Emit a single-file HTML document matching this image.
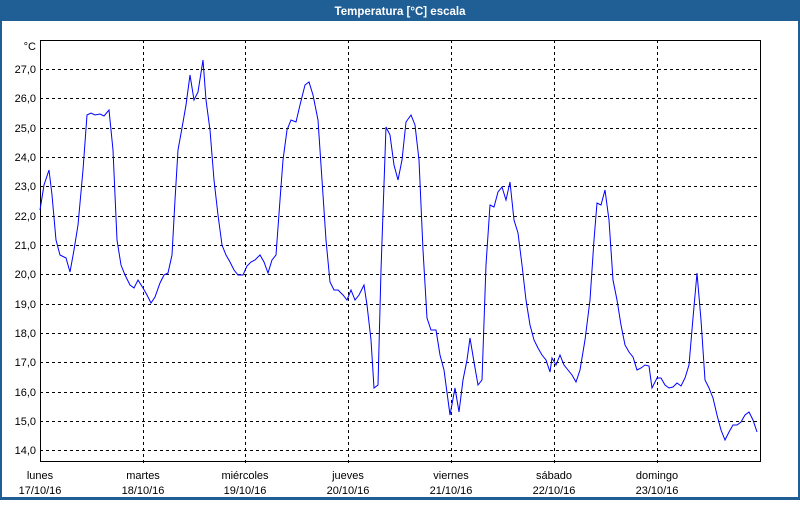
<!DOCTYPE html>
<html><head><meta charset="utf-8"><style>
body{margin:0;width:800px;height:500px;overflow:hidden;background:#fff;font-family:"Liberation Sans",sans-serif}
</style></head><body>
<svg width="800" height="500" xmlns="http://www.w3.org/2000/svg" font-family="Liberation Sans, sans-serif" font-size="11">
<rect x="0" y="0" width="800" height="500" fill="#1f5f95"/>
<rect x="2" y="21" width="796" height="476" fill="#fff"/>
<text x="400" y="15" fill="#fff" font-weight="bold" text-anchor="middle" font-size="11.5">Temperatura [°C] escala</text>
<g stroke="#000" stroke-dasharray="3,3" stroke-width="1">
<line x1="40" x2="760" y1="69.5" y2="69.5"/><line x1="40" x2="760" y1="98.5" y2="98.5"/>
<line x1="40" x2="760" y1="128.5" y2="128.5"/><line x1="40" x2="760" y1="157.5" y2="157.5"/>
<line x1="40" x2="760" y1="186.5" y2="186.5"/><line x1="40" x2="760" y1="216.5" y2="216.5"/>
<line x1="40" x2="760" y1="245.5" y2="245.5"/><line x1="40" x2="760" y1="274.5" y2="274.5"/>
<line x1="40" x2="760" y1="304.5" y2="304.5"/><line x1="40" x2="760" y1="333.5" y2="333.5"/>
<line x1="40" x2="760" y1="362.5" y2="362.5"/><line x1="40" x2="760" y1="392.5" y2="392.5"/>
<line x1="40" x2="760" y1="421.5" y2="421.5"/><line x1="40" x2="760" y1="450.5" y2="450.5"/>
<line x1="143.5" x2="143.5" y1="40" y2="466"/><line x1="245.5" x2="245.5" y1="40" y2="466"/>
<line x1="348.5" x2="348.5" y1="40" y2="466"/><line x1="451.5" x2="451.5" y1="40" y2="466"/>
<line x1="554.5" x2="554.5" y1="40" y2="466"/><line x1="657.5" x2="657.5" y1="40" y2="466"/>
</g>
<rect x="40.5" y="40.5" width="720" height="421" fill="none" stroke="#000"/>
<g text-anchor="end" fill="#000">
<text x="36" y="50">°C</text>
<text x="36" y="73">27,0</text><text x="36" y="102">26,0</text><text x="36" y="132">25,0</text>
<text x="36" y="161">24,0</text><text x="36" y="190">23,0</text><text x="36" y="220">22,0</text>
<text x="36" y="249">21,0</text><text x="36" y="278">20,0</text><text x="36" y="308">19,0</text>
<text x="36" y="337">18,0</text><text x="36" y="366">17,0</text><text x="36" y="396">16,0</text>
<text x="36" y="425">15,0</text><text x="36" y="454">14,0</text>
</g>
<g text-anchor="middle" fill="#000">
<text x="40" y="479">lunes</text><text x="40" y="494">17/10/16</text>
<text x="143" y="479">martes</text><text x="143" y="494">18/10/16</text>
<text x="245" y="479">miércoles</text><text x="245" y="494">19/10/16</text>
<text x="348" y="479">jueves</text><text x="348" y="494">20/10/16</text>
<text x="451" y="479">viernes</text><text x="451" y="494">21/10/16</text>
<text x="554" y="479">sábado</text><text x="554" y="494">22/10/16</text>
<text x="657" y="479">domingo</text><text x="657" y="494">23/10/16</text>
</g>
<polyline fill="none" stroke="#0000ff" stroke-width="1" points="40,210 44,185 49,170 52,195 56,240 60,255 66,258 70,272 74,250 78,225 83,170 87,115 91,113 95,115 100,114 104,116 109,110 113,150 117,240 121,265 125,275 130,285 134,288 138,280 143,288 147,295 151,303 155,297 160,283 164,275 168,273 172,255 175,200 178,150 182,128 186,105 190,75 194,100 198,92 203,60 206,100 210,130 214,180 218,215 222,245 226,255 230,262 234,270 238,275 243,275 247,266 251,262 255,260 260,255 264,262 268,273 272,260 276,255 280,200 283,160 287,130 291,120 296,122 300,105 305,85 309,82 313,95 318,120 322,180 326,240 330,282 334,290 338,290 343,295 347,300 351,290 355,300 359,295 364,285 367,305 371,340 374,388 378,385 381,270 386,127 390,135 394,165 398,180 402,160 406,122 411,115 415,125 419,160 423,250 427,318 431,330 436,330 440,355 444,370 450,415 455,388 459,412 463,380 467,360 470,338 474,362 478,385 482,380 486,265 490,205 494,207 498,192 502,187 506,200 510,182 514,220 518,233 522,265 526,300 530,325 534,340 538,348 542,355 546,360 550,372 552,358 556,365 560,355 564,365 568,370 572,375 576,382 580,370 585,340 590,300 594,240 597,203 601,205 605,190 609,220 613,280 617,300 621,325 625,345 629,352 633,357 637,370 641,368 645,365 649,366 652,388 657,378 661,378 665,385 669,388 673,387 677,383 681,386 685,378 689,365 693,318 697,273 701,320 705,380 709,388 713,398 717,415 721,430 725,440 729,432 733,425 737,425 741,422 745,415 749,412 753,420 757,432"/>
</svg>
</body></html>
